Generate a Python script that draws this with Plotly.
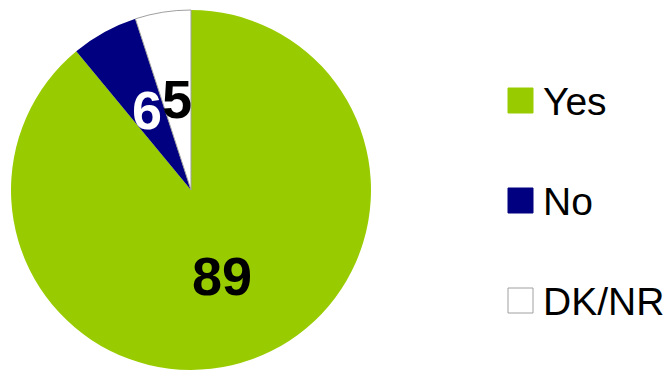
import math
import plotly.graph_objects as go

categories = ["Yes", "No", "DK/NR"]
values = [89, 6, 5]
colors = ["#99CC00", "#000080", "#FFFFFF"]
label_colors = ["#000000", "#FFFFFF", "#000000"]
line_colors = ["rgba(0,0,0,0)", "rgba(0,0,0,0)", "#A0A0A0"]
line_widths = [0, 0, 1]

W, H = 672, 370
CX, CY, R = 191, 190, 180  # pie centre / radius in pixels (top-left origin)
FONT = "Liberation Sans, Arial, sans-serif"

fig = go.Figure()
fig.add_trace(go.Pie(
    labels=categories,
    values=values,
    sort=False,
    direction="clockwise",
    rotation=0,
    textinfo="none",
    showlegend=False,
    marker=dict(colors=colors, line=dict(color=line_colors, width=line_widths)),
    domain=dict(x=[(CX - R) / W, (CX + R) / W], y=[(H - CY - R) / H, (H - CY + R) / H]),
))

annotations = []
shapes = []
# slice value labels placed along each slice's mid-angle
total = sum(values)
cum = 0
for v, c in zip(values, label_colors):
    mid = (cum + v / 2) / total * 2 * math.pi
    cum += v
    px = CX + 0.51 * R * math.sin(mid)
    py = CY - 0.51 * R * math.cos(mid)
    annotations.append(dict(
        x=px / W, y=1 - py / H, xref="paper", yref="paper",
        text=str(v), showarrow=False,
        font=dict(family=FONT, size=54, color=c, weight="bold"),
        xanchor="center", yanchor="middle",
    ))

# legend
for i, (cat, col) in enumerate(zip(categories, colors)):
    yc = 100.5 + 100 * i
    shapes.append(dict(
        type="rect", xref="paper", yref="paper",
        x0=508 / W, x1=533 / W, y0=1 - (yc - 12.5) / H, y1=1 - (yc + 12.5) / H,
        fillcolor=col, line=dict(color="#A0A0A0" if col == "#FFFFFF" else col, width=1),
    ))
    annotations.append(dict(
        x=541 / W, y=1 - (yc + 1) / H, xref="paper", yref="paper",
        text=cat, showarrow=False,
        font=dict(family=FONT, size=39, color="#000000"),
        xanchor="left", yanchor="middle",
    ))

fig.update_layout(
    width=W, height=H,
    margin=dict(l=0, r=0, t=0, b=0),
    paper_bgcolor="white", plot_bgcolor="white",
    annotations=annotations, shapes=shapes,
    showlegend=False,
)
fig.write_html("out.html")
